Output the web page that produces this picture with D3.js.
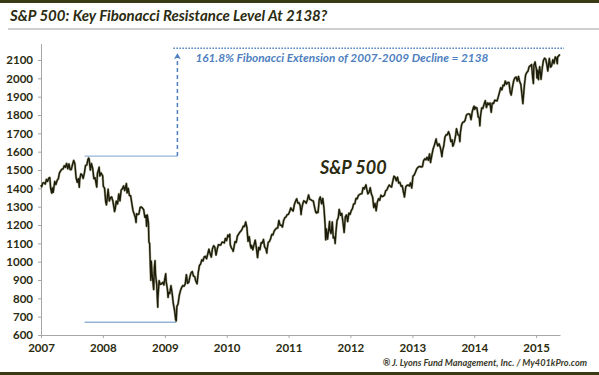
<!DOCTYPE html>
<html><head><meta charset="utf-8">
<script src="https://cdn.jsdelivr.net/npm/d3@7"></script>
<style>body{margin:0;background:#fff}svg{display:block}</style></head>
<body><svg id="c" width="599" height="375"></svg>
<script>
const titleText = "S&P 500: Key Fibonacci Resistance Level At 2138?";
const fibText = "161.8% Fibonacci Extension of 2007-2009 Decline = 2138";
const seriesLabel = "S&P 500";
const sourceText = "® J. Lyons Fund Management, Inc. / My401kPro.com";
const yTicks = [600,700,800,900,1000,1100,1200,1300,1400,1500,1600,1700,1800,1900,2000,2100];
const xYears = [2007,2008,2009,2010,2011,2012,2013,2014,2015];
const peakLevel = 1576, troughLevel = 670, fibLineLevel = 2164;
const peakDate = "2007-09-15", troughDate = "2009-03-09", arrowDate = "2009-03-16", fibEnd = "2015-06-15";

const spx2007 = [["2007-01-01",1418],["2007-01-05",1409],["2007-01-12",1430],["2007-01-19",1431],["2007-01-26",1423],["2007-02-02",1449],["2007-02-09",1438],["2007-02-16",1456],["2007-02-22",1459],["2007-02-27",1400],["2007-03-02",1387],["2007-03-05",1374],["2007-03-09",1402],["2007-03-14",1378],["2007-03-23",1437],["2007-03-30",1421],["2007-04-06",1443],["2007-04-13",1452],["2007-04-20",1484],["2007-04-27",1495],["2007-05-04",1505],["2007-05-11",1505],["2007-05-18",1523],["2007-05-25",1515],["2007-06-01",1536],["2007-06-08",1507],["2007-06-15",1533],["2007-06-22",1502],["2007-06-29",1503],["2007-07-06",1530],["2007-07-13",1552],["2007-07-20",1534],["2007-07-27",1458],["2007-08-03",1433],["2007-08-10",1453],["2007-08-15",1406],["2007-08-17",1445],["2007-08-24",1479],["2007-08-31",1474],["2007-09-07",1454],["2007-09-14",1484],["2007-09-21",1525],["2007-09-28",1527],["2007-10-05",1557],["2007-10-09",1565],["2007-10-12",1561],["2007-10-19",1500],["2007-10-26",1535],["2007-11-02",1509],["2007-11-09",1453],["2007-11-16",1458],["2007-11-26",1407],["2007-11-30",1481],["2007-12-07",1504],["2007-12-10",1515],["2007-12-14",1467],["2007-12-21",1484],["2007-12-31",1468]];
const spx2008 = [["2008-01-04",1411],["2008-01-11",1401],["2008-01-18",1325],["2008-01-22",1310],["2008-01-25",1330],["2008-02-01",1395],["2008-02-08",1331],["2008-02-15",1349],["2008-02-22",1353],["2008-02-29",1331],["2008-03-07",1293],["2008-03-10",1273],["2008-03-14",1288],["2008-03-20",1330],["2008-03-28",1315],["2008-04-04",1370],["2008-04-11",1332],["2008-04-18",1390],["2008-04-25",1398],["2008-05-02",1413],["2008-05-09",1388],["2008-05-19",1426],["2008-05-23",1375],["2008-05-30",1400],["2008-06-06",1360],["2008-06-13",1360],["2008-06-20",1318],["2008-06-27",1278],["2008-07-03",1262],["2008-07-11",1239],["2008-07-15",1214],["2008-07-18",1261],["2008-07-25",1257],["2008-08-01",1260],["2008-08-08",1296],["2008-08-15",1298],["2008-08-22",1292],["2008-08-29",1283],["2008-09-05",1242],["2008-09-12",1252],["2008-09-15",1193],["2008-09-19",1255],["2008-09-26",1213],["2008-09-29",1106],["2008-10-03",1100],["2008-10-10",899],["2008-10-13",1003],["2008-10-17",940],["2008-10-24",877],["2008-10-27",848],["2008-10-31",968],["2008-11-04",1005],["2008-11-07",930],["2008-11-14",873],["2008-11-20",752],["2008-11-21",800],["2008-11-28",896],["2008-12-05",876],["2008-12-12",879],["2008-12-19",887],["2008-12-26",873],["2008-12-31",903]];
const spx2009 = [["2009-01-06",934],["2009-01-09",890],["2009-01-16",850],["2009-01-20",805],["2009-01-23",832],["2009-01-30",826],["2009-02-06",869],["2009-02-13",827],["2009-02-20",770],["2009-02-27",735],["2009-03-06",683],["2009-03-09",677],["2009-03-13",756],["2009-03-20",769],["2009-03-27",816],["2009-04-03",842],["2009-04-09",857],["2009-04-17",870],["2009-04-24",866],["2009-05-01",877],["2009-05-08",929],["2009-05-15",882],["2009-05-22",887],["2009-05-29",919],["2009-06-05",940],["2009-06-12",946],["2009-06-19",921],["2009-06-26",918],["2009-07-02",896],["2009-07-10",879],["2009-07-17",940],["2009-07-24",979],["2009-07-31",987],["2009-08-07",1010],["2009-08-14",1004],["2009-08-21",1026],["2009-08-28",1029],["2009-09-04",1016],["2009-09-11",1042],["2009-09-18",1068],["2009-09-25",1044],["2009-10-02",1025],["2009-10-09",1071],["2009-10-16",1087],["2009-10-23",1079],["2009-10-30",1036],["2009-11-06",1069],["2009-11-13",1093],["2009-11-20",1091],["2009-11-27",1091],["2009-12-04",1106],["2009-12-11",1106],["2009-12-18",1102],["2009-12-24",1127],["2009-12-31",1115]];
const spx2010 = [["2010-01-08",1145],["2010-01-15",1136],["2010-01-19",1150],["2010-01-22",1092],["2010-01-29",1074],["2010-02-05",1066],["2010-02-08",1056],["2010-02-12",1075],["2010-02-19",1109],["2010-02-26",1105],["2010-03-05",1139],["2010-03-12",1150],["2010-03-19",1160],["2010-03-26",1167],["2010-04-02",1178],["2010-04-09",1194],["2010-04-16",1192],["2010-04-23",1217],["2010-04-30",1187],["2010-05-07",1111],["2010-05-14",1136],["2010-05-21",1087],["2010-05-25",1074],["2010-05-28",1089],["2010-06-04",1065],["2010-06-11",1092],["2010-06-18",1117],["2010-06-25",1076],["2010-07-02",1022],["2010-07-09",1078],["2010-07-16",1065],["2010-07-23",1103],["2010-07-30",1102],["2010-08-06",1121],["2010-08-13",1079],["2010-08-20",1071],["2010-08-26",1047],["2010-08-27",1065],["2010-09-03",1105],["2010-09-10",1110],["2010-09-17",1125],["2010-09-24",1148],["2010-10-01",1146],["2010-10-08",1166],["2010-10-15",1176],["2010-10-22",1183],["2010-10-29",1183],["2010-11-05",1225],["2010-11-12",1199],["2010-11-19",1199],["2010-11-26",1189],["2010-12-03",1225],["2010-12-10",1240],["2010-12-17",1244],["2010-12-23",1256],["2010-12-31",1258]];
const spx2011 = [["2011-01-07",1272],["2011-01-14",1293],["2011-01-21",1283],["2011-01-28",1276],["2011-02-04",1310],["2011-02-11",1329],["2011-02-18",1343],["2011-02-25",1320],["2011-03-04",1321],["2011-03-11",1304],["2011-03-16",1257],["2011-03-18",1279],["2011-03-25",1313],["2011-04-01",1332],["2011-04-08",1328],["2011-04-15",1319],["2011-04-22",1337],["2011-04-29",1364],["2011-05-06",1340],["2011-05-13",1338],["2011-05-20",1333],["2011-05-27",1331],["2011-06-03",1300],["2011-06-10",1271],["2011-06-15",1265],["2011-06-17",1271],["2011-06-24",1268],["2011-07-01",1339],["2011-07-07",1353],["2011-07-15",1316],["2011-07-22",1345],["2011-07-29",1292],["2011-08-05",1199],["2011-08-08",1119],["2011-08-12",1178],["2011-08-19",1123],["2011-08-26",1177],["2011-08-31",1219],["2011-09-02",1174],["2011-09-09",1154],["2011-09-16",1216],["2011-09-22",1129],["2011-09-23",1136],["2011-09-30",1131],["2011-10-03",1099],["2011-10-07",1155],["2011-10-14",1224],["2011-10-21",1238],["2011-10-27",1285],["2011-11-04",1253],["2011-11-11",1263],["2011-11-18",1216],["2011-11-25",1159],["2011-12-02",1244],["2011-12-09",1255],["2011-12-16",1219],["2011-12-23",1265],["2011-12-30",1258]];
const spx2012 = [["2012-01-06",1278],["2012-01-13",1289],["2012-01-20",1315],["2012-01-27",1316],["2012-02-03",1345],["2012-02-10",1343],["2012-02-17",1361],["2012-02-24",1366],["2012-03-02",1370],["2012-03-09",1371],["2012-03-16",1404],["2012-03-23",1397],["2012-04-02",1419],["2012-04-06",1398],["2012-04-13",1370],["2012-04-20",1378],["2012-04-27",1403],["2012-05-04",1369],["2012-05-11",1353],["2012-05-18",1295],["2012-05-25",1318],["2012-06-01",1278],["2012-06-08",1325],["2012-06-15",1343],["2012-06-22",1335],["2012-06-29",1362],["2012-07-06",1355],["2012-07-13",1357],["2012-07-20",1363],["2012-07-27",1386],["2012-08-03",1391],["2012-08-10",1406],["2012-08-17",1418],["2012-08-24",1411],["2012-08-31",1407],["2012-09-07",1438],["2012-09-14",1466],["2012-09-21",1460],["2012-09-28",1441],["2012-10-05",1461],["2012-10-12",1429],["2012-10-19",1433],["2012-10-26",1412],["2012-11-02",1414],["2012-11-09",1380],["2012-11-15",1353],["2012-11-23",1409],["2012-11-30",1416],["2012-12-07",1418],["2012-12-14",1413],["2012-12-21",1430],["2012-12-28",1402],["2012-12-31",1426]];
const spx2013 = [["2013-01-04",1466],["2013-01-11",1472],["2013-01-18",1486],["2013-01-25",1503],["2013-02-01",1513],["2013-02-08",1518],["2013-02-15",1520],["2013-02-22",1516],["2013-03-01",1518],["2013-03-08",1551],["2013-03-15",1561],["2013-03-22",1556],["2013-03-28",1569],["2013-04-05",1553],["2013-04-12",1588],["2013-04-18",1541],["2013-04-26",1582],["2013-05-03",1614],["2013-05-10",1633],["2013-05-21",1669],["2013-05-24",1650],["2013-05-31",1631],["2013-06-07",1643],["2013-06-14",1626],["2013-06-21",1593],["2013-06-24",1573],["2013-06-28",1606],["2013-07-05",1632],["2013-07-12",1680],["2013-07-19",1692],["2013-07-26",1692],["2013-08-02",1709],["2013-08-09",1691],["2013-08-16",1655],["2013-08-23",1664],["2013-08-27",1630],["2013-08-30",1633],["2013-09-06",1655],["2013-09-13",1688],["2013-09-18",1725],["2013-09-27",1692],["2013-10-04",1690],["2013-10-08",1655],["2013-10-11",1703],["2013-10-18",1745],["2013-10-25",1760],["2013-11-01",1762],["2013-11-08",1771],["2013-11-15",1798],["2013-11-22",1805],["2013-11-29",1806],["2013-12-06",1805],["2013-12-13",1775],["2013-12-20",1818],["2013-12-27",1841],["2013-12-31",1848]];
const spx2014 = [["2014-01-03",1831],["2014-01-10",1842],["2014-01-17",1838],["2014-01-24",1790],["2014-01-31",1783],["2014-02-03",1741],["2014-02-07",1797],["2014-02-14",1838],["2014-02-21",1836],["2014-02-28",1859],["2014-03-07",1878],["2014-03-14",1841],["2014-03-21",1866],["2014-03-28",1857],["2014-04-04",1865],["2014-04-11",1815],["2014-04-17",1864],["2014-04-25",1863],["2014-05-02",1881],["2014-05-09",1878],["2014-05-16",1878],["2014-05-23",1900],["2014-05-30",1924],["2014-06-06",1949],["2014-06-13",1937],["2014-06-20",1963],["2014-06-27",1961],["2014-07-03",1985],["2014-07-11",1968],["2014-07-18",1978],["2014-07-25",1978],["2014-08-01",1925],["2014-08-07",1909],["2014-08-15",1955],["2014-08-22",1988],["2014-08-29",2003],["2014-09-05",2007],["2014-09-12",1985],["2014-09-19",2010],["2014-09-26",1982],["2014-10-03",1967],["2014-10-10",1906],["2014-10-15",1862],["2014-10-17",1887],["2014-10-24",1964],["2014-10-31",2018],["2014-11-07",2032],["2014-11-14",2039],["2014-11-21",2064],["2014-11-28",2068],["2014-12-05",2075],["2014-12-12",2002],["2014-12-16",1972],["2014-12-19",2071],["2014-12-26",2089],["2014-12-31",2059]];
const spx2015 = [["2015-01-02",2058],["2015-01-06",2002],["2015-01-09",2045],["2015-01-15",1993],["2015-01-16",2019],["2015-01-22",2063],["2015-01-30",1995],["2015-02-06",2055],["2015-02-13",2097],["2015-02-20",2110],["2015-02-27",2104],["2015-03-06",2071],["2015-03-11",2040],["2015-03-13",2053],["2015-03-20",2108],["2015-03-27",2061],["2015-04-02",2067],["2015-04-10",2102],["2015-04-17",2081],["2015-04-24",2117],["2015-05-01",2108],["2015-05-06",2080],["2015-05-08",2116],["2015-05-15",2123],["2015-05-21",2131]];

const parse = d3.timeParse("%Y-%m-%d");
const data = [].concat(spx2007,spx2008,spx2009,spx2010,spx2011,spx2012,spx2013,spx2014,spx2015).map(d=>({date:parse(d[0]),value:d[1]}));

const svg = d3.select("#c");
const olive = "#2b2b10";
const font = "Lato, 'Open Sans', sans-serif";

// frame bands
svg.append("rect").attr("x",0).attr("y",0).attr("width",599).attr("height",3).attr("fill","#3a3a14");
svg.append("rect").attr("x",8).attr("y",28).attr("width",591).attr("height",2).attr("fill","#cfcfcf");
svg.append("rect").attr("x",0).attr("y",372).attr("width",599).attr("height",3).attr("fill","#3a3a14");

svg.append("text").attr("x",10).attr("y",21).text(titleText)
  .attr("font-family",font).attr("font-weight","bold").attr("font-style","italic")
  .attr("font-size",15).attr("fill",olive);

const x = d3.scaleTime().domain([parse("2007-01-01"), parse("2015-05-22")]).range([41,560]);
const y = d3.scaleLinear().domain([600,2190]).range([335,43.5]);

const yAxis = d3.axisLeft(y).tickValues(yTicks).tickFormat(d3.format("d")).tickSize(3).tickSizeOuter(0).tickPadding(5);
const gy = svg.append("g").attr("transform","translate(41,0)").call(yAxis);
const xAxis = d3.axisBottom(x).tickValues(xYears.map(v=>new Date(v,0,1))).tickFormat(d3.timeFormat("%Y")).tickSize(3).tickSizeOuter(0).tickPadding(6);
const gx = svg.append("g").attr("transform","translate(0,335)").call(xAxis);
[gx,gy].forEach(g=>{
  g.select(".domain").attr("stroke","#a6a6a6");
  g.selectAll(".tick line").attr("stroke","#a6a6a6");
  g.selectAll(".tick text").attr("font-family",font).attr("font-weight","bold").attr("font-size",11.5).attr("fill",olive);
});

// annotation lines
const lineCol = "#95b3d7", blue = "#4f7fbf";
svg.append("line").attr("x1",x(parse(peakDate))).attr("x2",x(parse(arrowDate))).attr("y1",y(peakLevel)).attr("y2",y(peakLevel)).attr("stroke",lineCol).attr("stroke-width",1.3);
svg.append("line").attr("x1",x(parse(peakDate))).attr("x2",x(parse(troughDate))).attr("y1",y(troughLevel)).attr("y2",y(troughLevel)).attr("stroke",lineCol).attr("stroke-width",1.5);
const ax = x(parse(arrowDate));
svg.append("line").attr("x1",ax).attr("x2",ax).attr("y1",y(peakLevel)).attr("y2",y(fibLineLevel)+7).attr("stroke",blue).attr("stroke-width",1.5).attr("stroke-dasharray","4,3");
svg.append("path").attr("d",`M${ax},${y(fibLineLevel)+5} L${ax-3.5},${y(fibLineLevel)+11} L${ax},${y(fibLineLevel)+9.5} L${ax+3.5},${y(fibLineLevel)+11} Z`).attr("fill",blue);
svg.append("line").attr("x1",ax-4).attr("x2",x(parse(fibEnd))).attr("y1",y(fibLineLevel)).attr("y2",y(fibLineLevel)).attr("stroke",blue).attr("stroke-width",1.5).attr("stroke-dasharray","1.5,1.5");
svg.append("text").attr("x",ax+18).attr("y",y(fibLineLevel)+14).text(fibText)
  .attr("font-family",font).attr("font-style","italic").attr("font-weight","bold").attr("font-size",11.8).attr("fill",blue);

// series
const line = d3.line().x(d=>x(d.date)).y(d=>y(d.value));
svg.append("path").datum(data).attr("d",line).attr("fill","none").attr("stroke","#5a5a20").attr("stroke-width",2.4).attr("stroke-linejoin","round").attr("opacity",0.5);
svg.append("path").datum(data).attr("d",line).attr("fill","none").attr("stroke","#1c1c0c").attr("stroke-width",1.4).attr("stroke-linejoin","round");

svg.append("text").attr("x",320).attr("y",174).text(seriesLabel)
  .attr("font-family",font).attr("font-weight","bold").attr("font-style","italic").attr("font-size",18).attr("fill",olive);
svg.append("text").attr("x",587).attr("y",366).attr("text-anchor","end").text(sourceText)
  .attr("font-family",font).attr("font-weight","bold").attr("font-style","italic").attr("font-size",9.2).attr("fill","#3a3a2a");
</script></body></html>
